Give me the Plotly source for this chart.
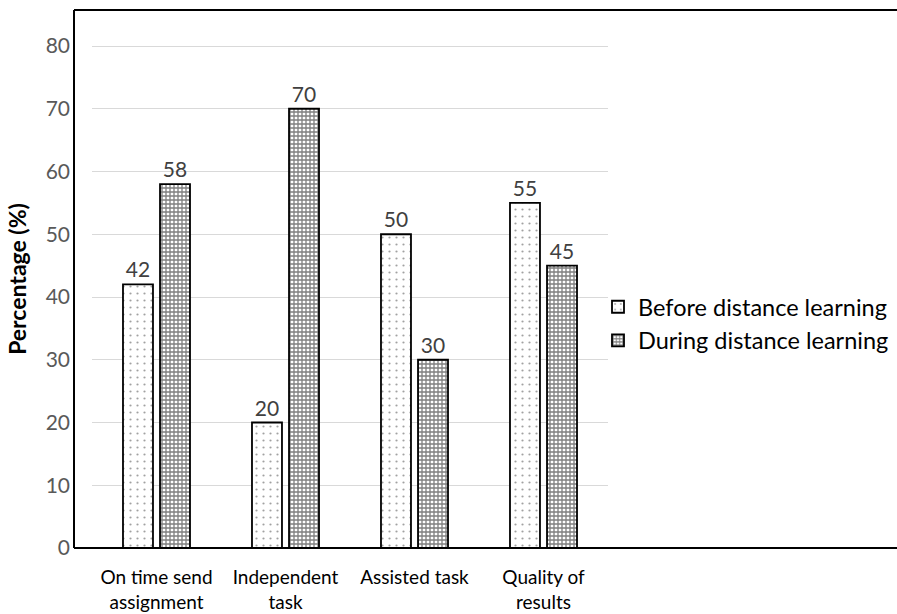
import plotly.graph_objects as go

categories = ["On time send<br>assignment", "Independent<br>task", "Assisted task<br> ", "Quality of<br>results"]
before = [42, 20, 50, 55]
during = [58, 70, 30, 45]
series_names = ["Before distance learning", "During distance learning"]

FONT = "Lato"
W, H = 897, 614
ml, mr, mt, mb = 92, 289, 10, 66
pw = W - ml - mr
ph = H - mt - mb
ymax = 80 * ph / (548 - 46)

fig = go.Figure()
fig.add_trace(go.Bar(
    name=series_names[0], x=categories, y=before, legendgroup="before",
    text=before, textposition="outside", cliponaxis=False,
    textfont=dict(family=FONT, size=21, color="#404040"),
    marker=dict(color="white", line=dict(color="black", width=1.8),
                pattern=dict(shape=".", fgcolor="#444444", bgcolor="white", size=7, solidity=0.08)),
))
fig.add_trace(go.Bar(
    name=series_names[1], x=categories, y=during, legendgroup="during",
    text=during, textposition="outside", cliponaxis=False,
    textfont=dict(family=FONT, size=21, color="#404040"),
    marker=dict(color="white", line=dict(color="black", width=1.8),
                pattern=dict(shape="+", fgcolor="black", bgcolor="white", size=4, solidity=0.55)),
))

# frame around the chart area
x_left = (74 - ml) / pw
x_right = (W - ml) / pw
frame = dict(color="black", width=2)
fig.add_shape(type="line", xref="paper", yref="paper", x0=x_left, x1=x_right, y0=1, y1=1, line=frame)
fig.add_shape(type="line", xref="paper", yref="paper", x0=x_left, x1=x_right, y0=0, y1=0, line=frame)
fig.add_shape(type="line", xref="paper", yref="paper", x0=x_left, x1=x_left, y0=0, y1=1, line=frame)

fig.update_layout(
    width=W, height=H,
    margin=dict(l=ml, r=mr, t=mt, b=mb, autoexpand=False),
    paper_bgcolor="white", plot_bgcolor="white",
    barmode="group", bargap=0.426, bargroupgap=0.19,
    font=dict(family=FONT, color="black"),
    showlegend=True,
    legend=dict(x=(598 - ml) / pw, xanchor="left", y=1 - (324 - mt) / ph, yanchor="middle",
                font=dict(family=FONT, size=23.5, color="black"),
                itemwidth=30, tracegroupgap=0, bgcolor="rgba(0,0,0,0)"),
    xaxis=dict(showline=False, ticks="", showgrid=False, ticklabelstandoff=16, automargin=False,
               tickfont=dict(family=FONT, size=19, color="black")),
    yaxis=dict(range=[0, ymax], dtick=10, showgrid=True, gridcolor="#d9d9d9", gridwidth=1,
               zeroline=False, showline=False, ticks="", ticklabelstandoff=21, automargin=False,
               tickfont=dict(family=FONT, size=21, color="#595959"),
               title=dict(text="<b>Percentage (%)</b>", standoff=12,
                          font=dict(family=FONT, size=23, color="black"))),
)

fig.write_html("out.html")
